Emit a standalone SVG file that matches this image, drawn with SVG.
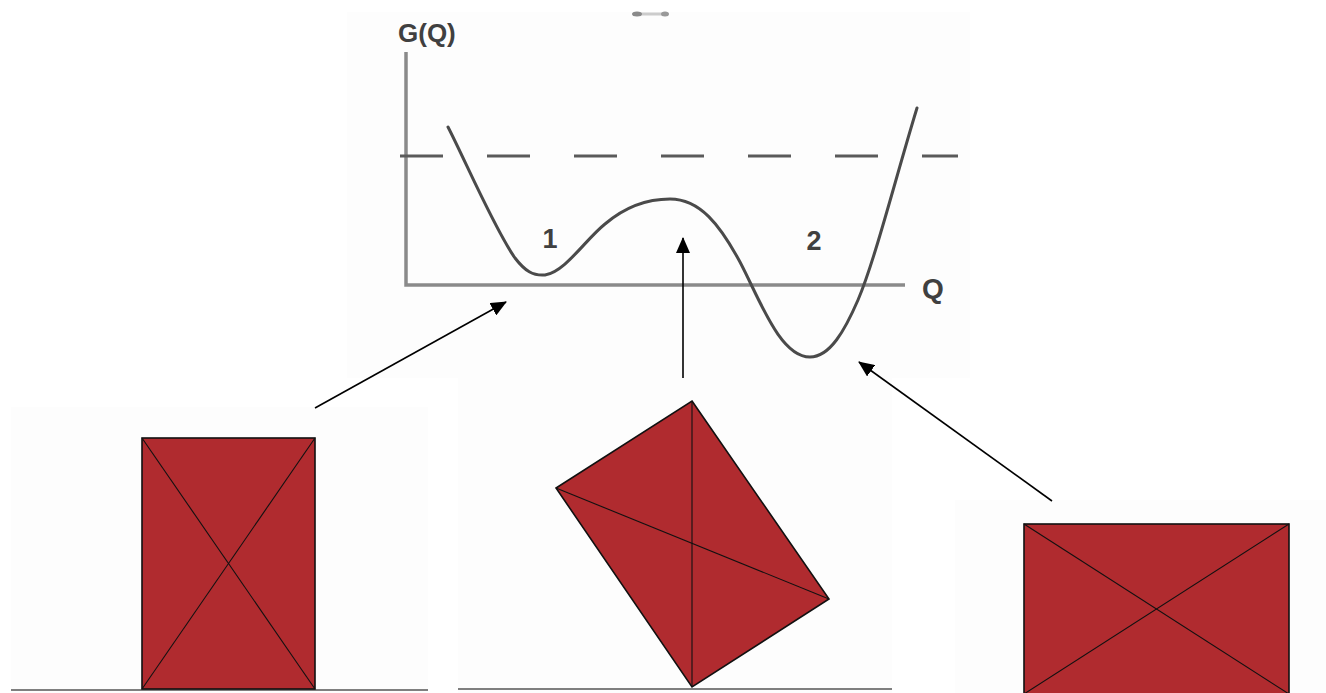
<svg xmlns="http://www.w3.org/2000/svg" width="1326" height="693" viewBox="0 0 1326 693">
<style>
.bg{fill:#fdfdfd}
.axis{stroke:#8a8a8a;stroke-width:3.5;fill:none}
.curve{stroke:#4a4a4a;stroke-width:3;fill:none;stroke-linecap:round}
.dash{stroke:#5a5a5a;stroke-width:3;stroke-dasharray:43 44;fill:none}
.lbl{font-family:"Liberation Sans",Arial,sans-serif;font-weight:bold;fill:#404040}
.box{fill:#b02b2f;stroke:#111;stroke-width:1.6}
.diag{stroke:#111;stroke-width:1.1}
.ground{stroke:#555;stroke-width:1.6}
.conn{stroke:#000;stroke-width:1.6;fill:none}
</style>
<defs>
<marker id="ah" markerWidth="16" markerHeight="14" refX="15" refY="7" orient="auto" markerUnits="userSpaceOnUse"><path d="M0,0 L16,7 L0,14 z" fill="#000"/></marker>
</defs>
<rect width="1326" height="693" fill="#fff"/>
<g id="graph">
<rect class="bg" x="347" y="12" width="623" height="366"/>
<line x1="633" y1="14" x2="667" y2="14" stroke="#ccc" stroke-width="3"/>
<ellipse cx="637" cy="14" rx="5" ry="2.5" fill="#8a8a8a"/>
<ellipse cx="665" cy="14" rx="4" ry="2.5" fill="#999"/>
<text class="lbl" x="398" y="42" font-size="26">G(Q)</text>
<polyline class="axis" points="406,52 406,285 905,285"/>
<line class="dash" x1="400" y1="156" x2="958" y2="156"/>
<path class="curve" d="M448,127 C465,160 495,230 515,258 C525,271 533,276 545,275 C565,272 585,240 605,224 C625,207 645,199 670,199 C700,199 720,225 740,262 C760,300 780,357 810,357 C830,357 845,330 858,300 C875,260 895,180 917,108"/>
<text class="lbl" x="550" y="248" font-size="27" text-anchor="middle">1</text>
<text class="lbl" x="814" y="250" font-size="27" text-anchor="middle">2</text>
<text class="lbl" x="922" y="298" font-size="28">Q</text>
</g>
<g id="upright">
<rect class="bg" x="11" y="407" width="417" height="286"/>
<line class="ground" x1="11" y1="690" x2="428" y2="690"/>
<rect class="box" x="142" y="438" width="173" height="251"/>
<line class="diag" x1="142" y1="438" x2="315" y2="689"/>
<line class="diag" x1="315" y1="438" x2="142" y2="689"/>
</g>
<g id="tilted">
<rect class="bg" x="458" y="378" width="434" height="315"/>
<line class="ground" x1="458" y1="689" x2="892" y2="689"/>
<polygon class="box" points="692,401 829,599 692,687 556,488" stroke-width="1.2"/>
<line class="diag" x1="692" y1="401" x2="692" y2="687"/>
<line class="diag" x1="556" y1="488" x2="829" y2="599"/>
</g>
<g id="lying">
<rect class="bg" x="955" y="500" width="371" height="193"/>
<rect class="box" x="1024" y="524" width="265" height="170"/>
<line class="diag" x1="1024" y1="524" x2="1289" y2="694"/>
<line class="diag" x1="1289" y1="524" x2="1024" y2="694"/>
</g>
<g id="connectors">
<line class="conn" x1="315" y1="408" x2="506" y2="302" marker-end="url(#ah)"/>
<line class="conn" x1="683" y1="378" x2="683" y2="238" marker-end="url(#ah)"/>
<line class="conn" x1="1052" y1="501" x2="859" y2="362" marker-end="url(#ah)"/>
</g>
</svg>
